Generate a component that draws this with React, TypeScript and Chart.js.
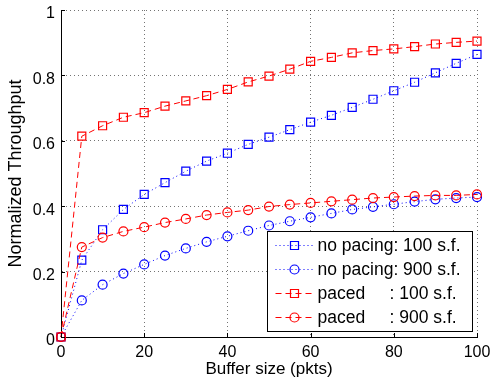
import React, { useEffect, useRef } from "react";
import { Chart, registerables } from "chart.js";

Chart.register(...registerables);

const bufferSizes = [0, 5, 10, 15, 20, 25, 30, 35, 40, 45, 50, 55, 60, 65, 70, 75, 80, 85, 90, 95, 100];
const noPacing100 = [0, 0.235, 0.328, 0.39, 0.436, 0.472, 0.507, 0.538, 0.562, 0.589, 0.611, 0.634, 0.657, 0.678, 0.702, 0.727, 0.753, 0.779, 0.808, 0.837, 0.864];
const noPacing900 = [0, 0.112, 0.16, 0.194, 0.222, 0.249, 0.271, 0.291, 0.308, 0.325, 0.341, 0.354, 0.366, 0.378, 0.39, 0.398, 0.406, 0.414, 0.421, 0.425, 0.428];
const paced100 = [0, 0.614, 0.646, 0.672, 0.686, 0.706, 0.722, 0.738, 0.757, 0.78, 0.798, 0.819, 0.843, 0.855, 0.869, 0.876, 0.881, 0.888, 0.896, 0.901, 0.905];
const paced900 = [0, 0.275, 0.304, 0.323, 0.336, 0.35, 0.361, 0.373, 0.381, 0.388, 0.399, 0.405, 0.41, 0.415, 0.42, 0.425, 0.428, 0.431, 0.433, 0.433, 0.436];
const seriesLabels = ["no pacing: 100 s.f.", "no pacing: 900 s.f.", "paced     : 100 s.f.", "paced     : 900 s.f."];
const xTicks = [0, 20, 40, 60, 80, 100];
const yTicks = [0, 0.2, 0.4, 0.6, 0.8, 1];
const xTitle = "Buffer size (pkts)";
const yTitle = "Normalized Throughput";

const FONT = "'Liberation Sans', Arial, Helvetica, sans-serif";
const BLUE = "#0000ff";
const RED = "#ff0000";

const toPoints = (vals: number[]) => bufferSizes.map((x, i) => ({ x, y: vals[i] }));

const framePlugin = {
  id: "frame",
  afterDraw(chart: any) {
    const { ctx, chartArea: a, scales } = chart;
    ctx.save();
    // inward tick marks
    ctx.strokeStyle = "#000";
    ctx.lineWidth = 1;
    ctx.setLineDash([]);
    ctx.beginPath();
    for (const v of xTicks) {
      const px = Math.round(scales.x.getPixelForValue(v)) + 0.5;
      ctx.moveTo(px, a.bottom);
      ctx.lineTo(px, a.bottom - 4);
    }
    for (const v of yTicks) {
      const py = Math.round(scales.y.getPixelForValue(v)) + 0.5;
      ctx.moveTo(a.left, py);
      ctx.lineTo(a.left + 4, py);
    }
    ctx.stroke();

    // legend box
    const bw = 205;
    const bh = 100;
    const bx = Math.round(a.right - 5 - bw) + 0.5;
    const by = Math.round(a.bottom - 6 - bh) + 0.5;
    ctx.fillStyle = "#fff";
    ctx.fillRect(bx, by, bw, bh);
    ctx.strokeStyle = "#000";
    ctx.lineWidth = 1;
    ctx.strokeRect(bx, by, bw, bh);

    const datasets = chart.data.datasets;
    ctx.font = `17.5px ${FONT}`;
    ctx.textBaseline = "middle";
    ctx.textAlign = "left";
    datasets.forEach((ds: any, i: number) => {
      const cy = by + 14 + i * 24;
      const x1 = bx + 8;
      const x2 = bx + 46;
      const mx = bx + 27;
      ctx.strokeStyle = ds.borderColor;
      ctx.lineWidth = ds.borderWidth;
      ctx.setLineDash(ds.borderDash || []);
      ctx.beginPath();
      ctx.moveTo(x1, cy);
      ctx.lineTo(x2, cy);
      ctx.stroke();
      ctx.setLineDash([]);
      ctx.lineWidth = ds.pointBorderWidth;
      ctx.strokeStyle = ds.pointBorderColor;
      ctx.beginPath();
      if (ds.pointStyle === "rect") {
        const s = Math.SQRT1_2 * ds.pointRadius;
        ctx.rect(mx - s, cy - s, 2 * s, 2 * s);
      } else {
        ctx.arc(mx, cy, ds.pointRadius, 0, Math.PI * 2);
      }
      ctx.stroke();
      ctx.fillStyle = "#000";
      ctx.fillText(ds.label, bx + 50, cy + 1);
    });
    ctx.restore();
  },
};

function makeDataset(label: string, vals: number[], color: string, dash: number[], style: string, radius: number, order: number) {
  return {
    label,
    data: toPoints(vals),
    borderColor: color,
    borderWidth: 1,
    borderDash: dash,
    pointStyle: style,
    pointRadius: radius,
    pointBorderColor: color,
    pointBackgroundColor: "rgba(0,0,0,0)",
    pointBorderWidth: 1.2,
    fill: false,
    tension: 0,
    clip: false,
    order,
  };
}

export default function App() {
  const ref = useRef<HTMLCanvasElement | null>(null);

  useEffect(() => {
    if (!ref.current) return;
    const chart = new Chart(ref.current, {
      type: "line",
      data: {
        datasets: [
          makeDataset(seriesLabels[0], noPacing100, BLUE, [1, 3], "rect", 5.66, 3),
          makeDataset(seriesLabels[1], noPacing900, BLUE, [1, 3], "circle", 4.5, 2),
          makeDataset(seriesLabels[2], paced100, RED, [6, 4], "rect", 5.66, 1),
          makeDataset(seriesLabels[3], paced900, RED, [6, 4], "circle", 4.5, 0),
        ] as any,
      },
      options: {
        animation: false,
        responsive: false,
        layout: { padding: { left: 0, right: 15, top: 10, bottom: 0 } },
        plugins: { legend: { display: false }, tooltip: { enabled: false } },
        scales: {
          x: {
            type: "linear",
            min: 0,
            max: 100,
            afterBuildTicks: (s: any) => {
              s.ticks = xTicks.map((v) => ({ value: v }));
            },
            afterFit: (s: any) => {
              s.height = 48;
              s.paddingLeft = 0;
              s.paddingRight = 0;
            },
            ticks: {
              color: "#000",
              font: { family: FONT, size: 16 },
              padding: 6,
              maxRotation: 0,
              callback: (v: any) => String(v),
            },
            grid: { color: "rgba(0,0,0,0.55)", drawTicks: false, lineWidth: 1 },
            border: { display: true, color: "#000", width: 1, dash: [1, 3] },
            title: {
              display: true,
              text: xTitle,
              color: "#000",
              font: { family: FONT, size: 17 },
              padding: { top: 0, bottom: 5 },
            },
          },
          y: {
            type: "linear",
            min: 0,
            max: 1,
            afterBuildTicks: (s: any) => {
              s.ticks = yTicks.map((v) => ({ value: v }));
            },
            afterFit: (s: any) => {
              s.width = 61;
              s.paddingTop = 0;
              s.paddingBottom = 0;
            },
            ticks: {
              color: "#000",
              font: { family: FONT, size: 16 },
              padding: 6,
              labelOffset: 4,
              callback: (v: any) => String(v),
            },
            grid: { color: "rgba(0,0,0,0.55)", drawTicks: false, lineWidth: 1 },
            border: { display: true, color: "#000", width: 1, dash: [1, 3] },
            title: {
              display: true,
              text: yTitle,
              color: "#000",
              font: { family: FONT, size: 18 },
              padding: { top: 5, bottom: 0 },
            },
          },
        },
      } as any,
      plugins: [framePlugin],
    });
    return () => chart.destroy();
  }, []);

  return (
    <div style={{ position: "absolute", left: 0, top: 0, width: 492, height: 385, background: "#fff" }}>
      <canvas ref={ref} width={492} height={385} style={{ display: "block" }} />
    </div>
  );
}
